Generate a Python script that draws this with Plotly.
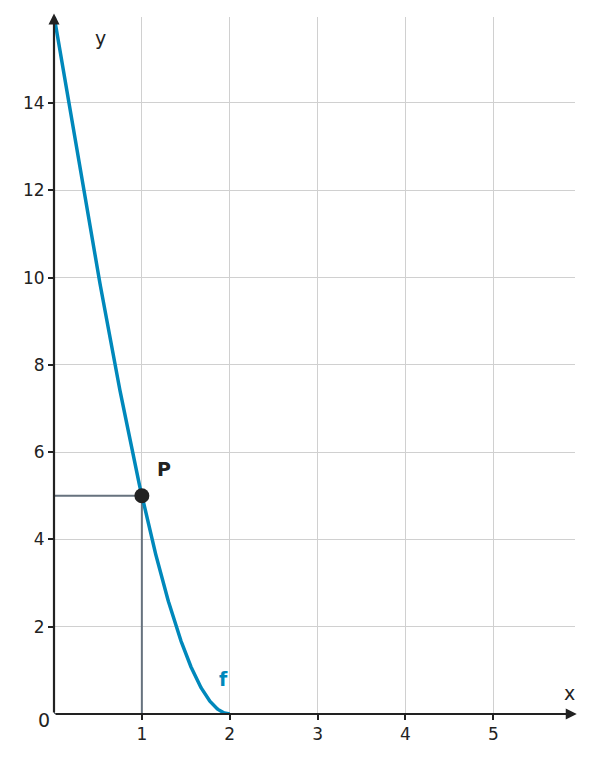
import numpy as np
import plotly.graph_objects as go

# f(x) = (2 - x)^2 * (x + 4)
root = 2.0
shift = 4.0
x_start, x_end = 0.0, 2.0
point_x, point_y = 1.0, 5.0
x_ticks = [1, 2, 3, 4, 5]
y_ticks = [2, 4, 6, 8, 10, 12, 14]

xs = np.linspace(x_start, x_end, 300)
ys = (root - xs) ** 2 * (xs + shift)

blue = "#0088bb"
dark = "#222222"
fnt = "DejaVu Sans"

fig = go.Figure()
fig.add_trace(go.Scatter(x=[0, point_x, point_x, 0, 0], y=[0, 0, point_y, point_y, 0],
                         mode="lines", line=dict(color="#66727e", width=2), hoverinfo="skip",
                         cliponaxis=False))
fig.add_trace(go.Scatter(x=xs, y=ys, mode="lines", line=dict(color=blue, width=3.5)))
fig.add_trace(go.Scatter(x=[point_x], y=[point_y], mode="markers",
                         marker=dict(color=dark, size=15)))

ax = dict(showgrid=True, gridcolor="#d0d0d0", gridwidth=1.3, zeroline=False,
          ticks="outside", ticklen=5, tickcolor=dark, tickwidth=2,
          tickfont=dict(family=fnt, size=17, color=dark), showline=False)
fig.update_xaxes(range=[0, 5.93], tickvals=x_ticks, **ax)
fig.update_yaxes(range=[0, 15.97], tickvals=y_ticks, **ax)

# axes with arrows
fig.add_annotation(x=5.95, y=0, ax=0, ay=0, xref="x", yref="y", axref="x", ayref="y",
                   showarrow=True, arrowhead=2, arrowsize=1, arrowwidth=2.2, arrowcolor=dark, text="")
fig.add_annotation(x=0, y=16.05, ax=0, ay=0, xref="x", yref="y", axref="x", ayref="y",
                   showarrow=True, arrowhead=2, arrowsize=1, arrowwidth=2.2, arrowcolor=dark, text="")

def label(x, y, t, color=dark, bold=False):
    fig.add_annotation(x=x, y=y, text=f"<b>{t}</b>" if bold else t, showarrow=False,
                       font=dict(family=fnt, size=19, color=color))

label(5.87, 0.47, "x")
label(0.53, 15.5, "y")
label(1.25, 5.62, "P", bold=True)
label(1.93, 0.8, "f", color=blue, bold=True)
fig.add_annotation(x=-0.035, y=-0.027, xref="paper", yref="paper", text="0", showarrow=False,
                   font=dict(family=fnt, size=19, color=dark))

fig.update_layout(width=593, height=761, showlegend=False, plot_bgcolor="white",
                  paper_bgcolor="white", margin=dict(l=46, r=26, t=9, b=55))
fig.write_html("out.html")
